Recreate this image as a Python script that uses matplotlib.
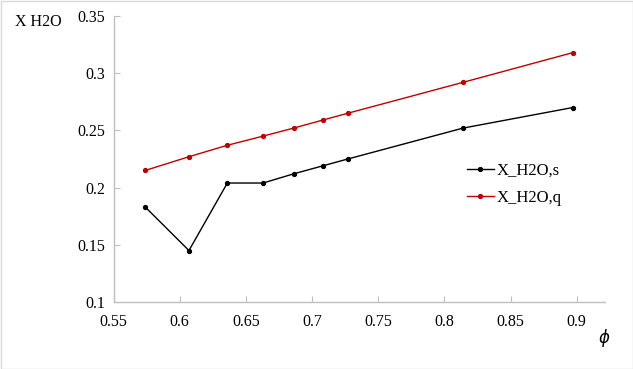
import matplotlib
matplotlib.use("Agg")
import matplotlib.pyplot as plt
from matplotlib.patches import Rectangle

# equivalence ratio
phi = [0.574, 0.607, 0.636, 0.663, 0.686, 0.708, 0.727, 0.814, 0.897]
# water mole fraction, two series
x_h2o_s = [0.183, 0.145, 0.204, 0.204, 0.212, 0.219, 0.225, 0.252, 0.270]
x_h2o_q = [0.215, 0.227, 0.237, 0.245, 0.252, 0.259, 0.265, 0.292, 0.318]

plt.rcParams['font.family'] = ['Liberation Serif', 'DejaVu Serif']
plt.rcParams['font.size'] = 11

fig = plt.figure(figsize=(6.33, 3.69), dpi=100)
ax = fig.add_axes([113.5/633, 1-302/369, (605-113.5)/633, (302-16)/369])

ax.plot(phi, x_h2o_s, color='black', lw=1, marker='o', ms=2.8, label='X_H2O,s')
ax.plot(phi, x_h2o_q, color='#c00000', lw=1, marker='o', ms=2.8, label='X_H2O,q')

ax.set_xlim(0.55, 0.9213)
ax.set_ylim(0.1, 0.35)
ax.set_xticks([0.55, 0.6, 0.65, 0.7, 0.75, 0.8, 0.85, 0.9])
ax.set_xticklabels(['0.55', '0.6', '0.65', '0.7', '0.75', '0.8', '0.85', '0.9'])
ax.set_yticks([0.1, 0.15, 0.2, 0.25, 0.3, 0.35])
ax.set_yticklabels(['0.1', '0.15', '0.2', '0.25', '0.3', '0.35'])

for s in ['top', 'right']:
    ax.spines[s].set_visible(False)
for s in ['left', 'bottom']:
    ax.spines[s].set_color('#bfbfbf')
    ax.spines[s].set_linewidth(1)
ax.tick_params(direction='in', length=4, color='#bfbfbf', labelsize=11.5, pad=6)
ax.tick_params(axis='x', pad=9)

fig.text(15/633, 1-22/369, 'X H2O', ha='left', va='center', fontsize=11.5)
fig.text(604/633, 1-338/369, r'$\phi$', ha='center', va='center', fontsize=12)

ax.legend(loc='upper left', bbox_to_anchor=(467/633, 1-162.5/369), bbox_transform=fig.transFigure,
          frameon=False, borderpad=0, borderaxespad=0,
          handlelength=1.6, handletextpad=0.2, labelspacing=0.7, fontsize=12)

fig.patches.append(Rectangle((0.5/633, 0.5/369), 1-1/633, 1-1/369, transform=fig.transFigure,
                             fill=False, edgecolor='#d9d9d9', lw=1))

fig.savefig('out.png', dpi=100)
